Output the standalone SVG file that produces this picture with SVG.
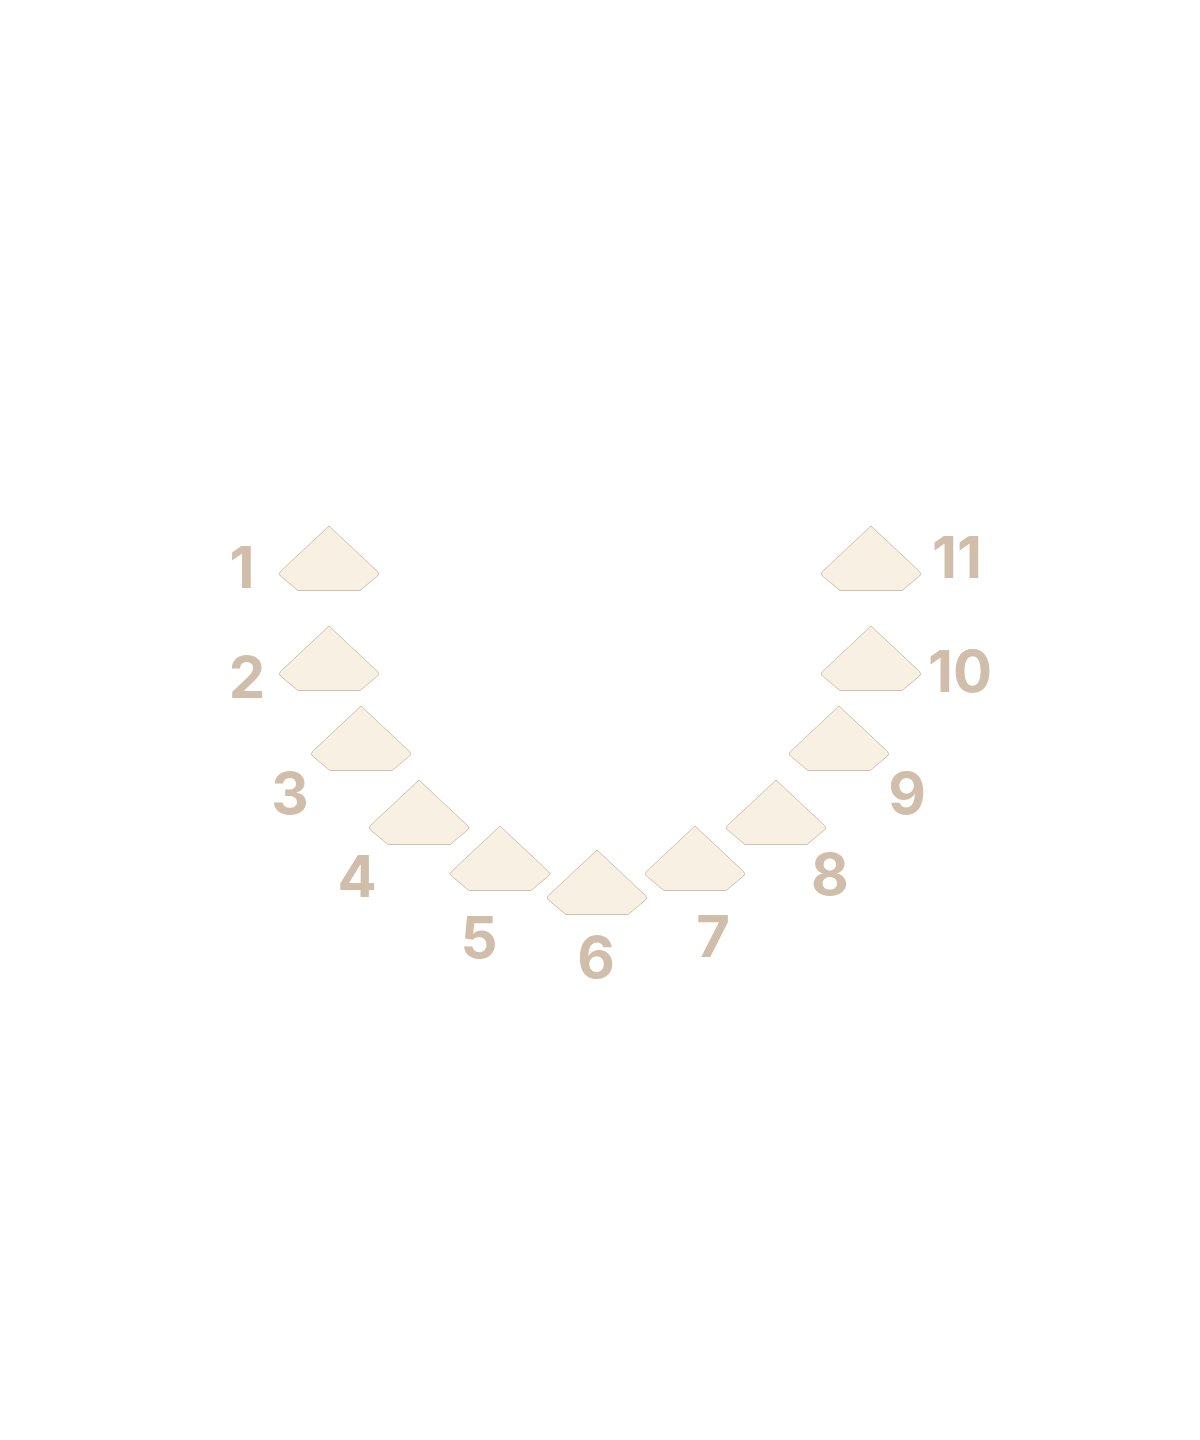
<svg xmlns="http://www.w3.org/2000/svg" width="1200" height="1440" viewBox="0 0 1200 1440">
<defs>
<style>
.tooth{fill:#f8f0e3;stroke:#d3c1ab;stroke-width:1;stroke-linejoin:round}
.lbl{font-family:Inter,"Open Sans","Liberation Sans",sans-serif;font-weight:700;font-size:58px;fill:#d0bdaa;text-anchor:middle}
</style>
<path id="p" d="M0,0 L48.5,45.5 Q51,48 48.5,50 L31,64.5 L-31,64.5 L-48.5,50 Q-51,48 -48.5,45.5 Z"/>
</defs>
<rect width="1200" height="1440" fill="#ffffff"/>
<g id="connectors"/>
<g id="n1"><use href="#p" class="tooth" x="329" y="526"/><text class="lbl" x="242" y="588">1</text></g>
<g id="n2"><use href="#p" class="tooth" x="329" y="626"/><text class="lbl" x="247" y="698">2</text></g>
<g id="n3"><use href="#p" class="tooth" x="361" y="706"/><text class="lbl" x="290" y="814">3</text></g>
<g id="n4"><use href="#p" class="tooth" x="419" y="780"/><text class="lbl" x="357" y="897">4</text></g>
<g id="n5"><use href="#p" class="tooth" x="500" y="826"/><text class="lbl" x="479" y="958">5</text></g>
<g id="n6"><use href="#p" class="tooth" x="597" y="850"/><text class="lbl" x="596" y="978">6</text></g>
<g id="n7"><use href="#p" class="tooth" x="695" y="826"/><text class="lbl" x="713" y="957">7</text></g>
<g id="n8"><use href="#p" class="tooth" x="776" y="780"/><text class="lbl" x="830" y="895">8</text></g>
<g id="n9"><use href="#p" class="tooth" x="839" y="706"/><text class="lbl" x="907" y="814">9</text></g>
<g id="n10"><use href="#p" class="tooth" x="871" y="626"/><text class="lbl" x="960" y="692">10</text></g>
<g id="n11"><use href="#p" class="tooth" x="871" y="526"/><text class="lbl" x="957" y="578">11</text></g>
</svg>
